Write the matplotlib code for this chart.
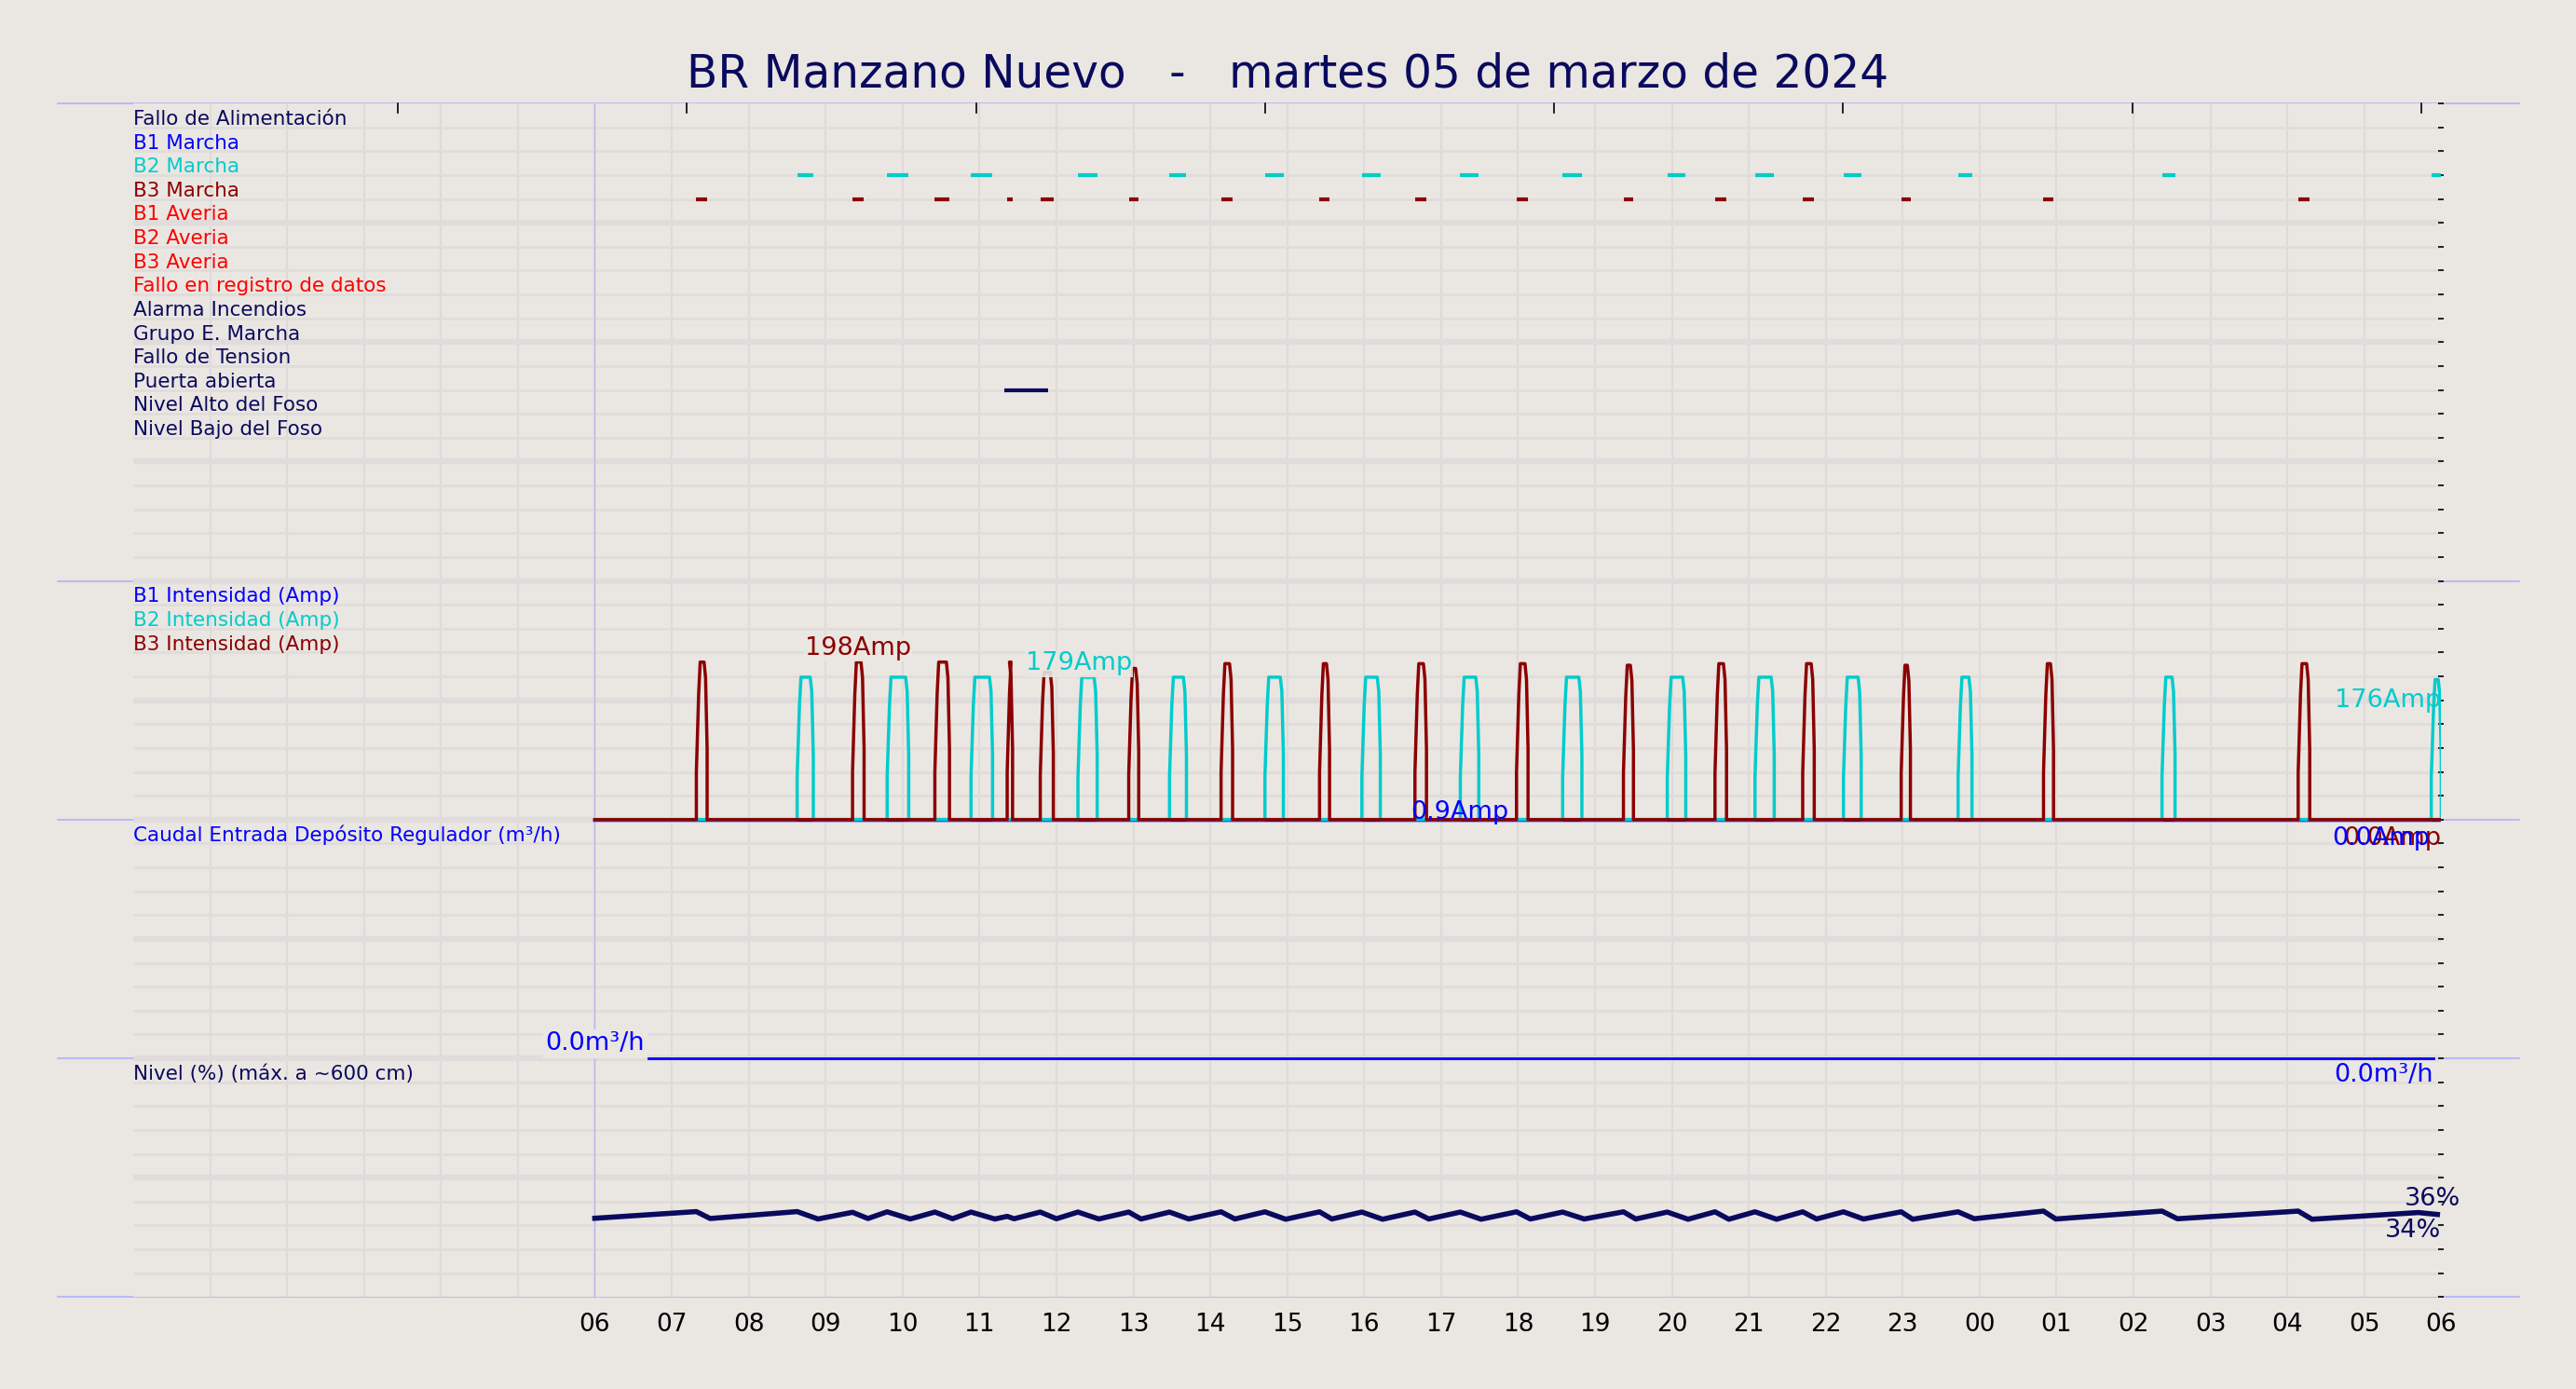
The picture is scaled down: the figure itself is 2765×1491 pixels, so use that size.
import matplotlib
matplotlib.use("Agg")
import matplotlib.pyplot as plt
from matplotlib.lines import Line2D

BG = "#EAE6E1"
NAVY = "#0A0A5E"
CYAN = "#00CCCC"
DRED = "#8B0000"
BLUE = "#0000FF"
RED = "#FF0000"

title = "BR Manzano Nuevo   -   martes 05 de marzo de 2024"
digital_labels = ["Fallo de Alimentación", "B1 Marcha", "B2 Marcha", "B3 Marcha",
                  "B1 Averia", "B2 Averia", "B3 Averia", "Fallo en registro de datos",
                  "Alarma Incendios", "Grupo E. Marcha", "Fallo de Tension",
                  "Puerta abierta", "Nivel Alto del Foso", "Nivel Bajo del Foso"]
digital_colors = [NAVY, BLUE, CYAN, DRED, RED, RED, RED, RED, NAVY, NAVY, NAVY, NAVY, NAVY, NAVY]
analog_labels = ["B1 Intensidad (Amp)", "B2 Intensidad (Amp)", "B3 Intensidad (Amp)"]
analog_colors = [BLUE, CYAN, DRED]
caudal_label = "Caudal Entrada Depósito Regulador (m³/h)"
nivel_label = "Nivel (%) (máx. a ~600 cm)"
hour_labels = ["06", "07", "08", "09", "10", "11", "12", "13", "14", "15", "16", "17", "18",
               "19", "20", "21", "22", "23", "00", "01", "02", "03", "04", "05", "06"]

# pump runs (start h, end h, peak Amp); hours counted from 00:00 of the day
b3_start = [7.32, 9.35, 10.42, 11.36, 11.79, 12.94, 14.14, 15.42, 16.66, 17.98, 19.37,
            20.56, 21.70, 22.98, 24.83, 28.14]
b3_end = [7.46, 9.50, 10.61, 11.43, 11.96, 13.07, 14.29, 15.55, 16.81, 18.13, 19.50,
          20.71, 21.85, 23.10, 24.96, 28.29]
b3_peak = [198, 198, 198, 198, 185, 190, 196, 196, 196, 196, 194, 196, 196, 194, 196, 196]
b2_start = [8.63, 9.80, 10.89, 12.28, 13.47, 14.71, 15.97, 17.25, 18.58, 19.94, 21.08,
            22.23, 23.72, 26.37, 29.87]
b2_end = [8.84, 10.08, 11.17, 12.53, 13.69, 14.95, 16.21, 17.49, 18.83, 20.18, 21.33,
          22.46, 23.90, 26.54, 30.00]
b2_peak = [179, 179, 179, 179, 179, 179, 179, 179, 179, 179, 179, 179, 179, 179, 176]
puerta_start, puerta_end = 11.32, 11.89

caudal_t = [6.7, 29.9]
caudal_v = [0.0, 0.0]

nivel_t = [6.0, 7.32, 7.5, 8.63, 8.9, 9.35, 9.55, 9.8, 10.1, 10.42, 10.65, 10.89, 11.2,
           11.36, 11.45, 11.79, 12.0, 12.28, 12.55, 12.94, 13.1, 13.47, 13.72, 14.14, 14.32,
           14.71, 14.98, 15.42, 15.58, 15.97, 16.24, 16.66, 16.84, 17.25, 17.52, 17.98, 18.16,
           18.58, 18.86, 19.37, 19.53, 19.94, 20.21, 20.56, 20.74, 21.08, 21.36, 21.70, 21.88,
           22.23, 22.49, 22.98, 23.13, 23.72, 23.93, 24.83, 24.99, 26.37, 26.57, 28.14, 28.32,
           29.7, 29.95]
nivel_v = [33.0, 35.8, 32.9, 35.8, 32.7, 35.5, 32.9, 35.7, 32.7, 35.6, 32.8, 35.6, 32.7,
           33.8, 32.8, 35.6, 32.8, 35.6, 32.7, 35.6, 32.7, 35.6, 32.7, 35.7, 32.7,
           35.7, 32.6, 35.7, 32.7, 35.6, 32.6, 35.6, 32.7, 35.6, 32.6, 35.7, 32.7,
           35.6, 32.7, 35.7, 32.7, 35.6, 32.6, 35.7, 32.6, 35.7, 32.6, 35.7, 32.7,
           35.7, 32.7, 35.7, 32.6, 35.7, 32.8, 36.0, 32.7, 36.0, 32.8, 36.0, 32.6,
           35.4, 34.6]

fig = plt.figure(figsize=(27.65, 14.91), dpi=100, facecolor=BG)
ax = fig.add_axes([0.0517, 0.0662, 0.8960, 0.8593])
ax.set_facecolor(BG)
ax.set_xlim(0, 30)
ax.set_ylim(0, 50)

# grid
for h in range(1, 30):
    ax.axvline(h, color="#DEDADA", lw=1.5, zorder=0)
for y in range(1, 50):
    ax.axhline(y, color="#E0DCDB", lw=4.5 if y % 5 == 0 else 2, zorder=0)
ax.axvline(6, color="#B8B8F0", lw=1, zorder=1)
for s in ax.spines.values():
    s.set_visible(False)

# panel separators
for yf in [0.0, 10.0, 20.0, 30.0, 50.0]:
    yfig = 0.0662 + 0.8593 * yf / 50
    fig.add_artist(Line2D([0.0223, 0.978], [yfig, yfig], color="#AEB0FF", lw=1.2, zorder=0))

ax.set_xticks(range(6, 31))
ax.set_xticklabels(hour_labels, fontsize=19)
ax.tick_params(axis="x", length=0, pad=12)
ax.set_yticks(range(0, 51))
ax.yaxis.tick_right()
ax.tick_params(axis="y", length=5, direction="inout", labelright=False, width=1.2)
top_ticks = [3.44 + 3.757 * k for k in range(8)]
for t in top_ticks:
    ax.plot([t, t], [49.6, 50], color="black", lw=1.2, clip_on=False)

fig.suptitle(title, fontsize=35, color=NAVY, y=0.963)

LF = 15.5
VF = 19.5
# digital labels and marks
for i, (lab, c) in enumerate(zip(digital_labels, digital_colors)):
    ax.text(0.0, 49 - i - 0.05, lab, color=c, fontsize=LF, va="bottom", ha="left")
for s, e in zip(b2_start, b2_end):
    ax.plot([s, e], [47, 47], color=CYAN, lw=3, solid_capstyle="butt")
for s, e in zip(b3_start, b3_end):
    ax.plot([s, e], [46, 46], color=DRED, lw=3, solid_capstyle="butt")
ax.plot([puerta_start, puerta_end], [38, 38], color=NAVY, lw=3, solid_capstyle="butt")

# intensity
for i, (lab, c) in enumerate(zip(analog_labels, analog_colors)):
    ax.text(0.0, 29 - i - 0.05, lab, color=c, fontsize=LF, va="bottom", ha="left")

def pulses(starts, ends, peaks):
    xs, ys = [6.0], [0.0]
    for s, e, p in zip(starts, ends, peaks):
        xs += [s, s, s + 0.03, s + 0.05, e - 0.04, e - 0.02, e, e]
        ys += [0, 0.3 * p, 0.8 * p, p, p, 0.9 * p, 0.45 * p, 0]
    if xs[-1] < 30:
        xs.append(30.0); ys.append(0.0)
    return xs, [20 + v / 30 for v in ys]

ax.plot([6, 30], [20, 20], color=BLUE, lw=2.5)
x2, y2 = pulses(b2_start, b2_end, b2_peak)
ax.plot(x2, y2, color=CYAN, lw=2.5)
x3, y3 = pulses(b3_start, b3_end, b3_peak)
ax.plot(x3, y3, color=DRED, lw=2.5)

bb = dict(facecolor=BG, edgecolor="none", pad=1, alpha=0.9)
ax.text(8.73, 20 + 198 / 30 + 0.3, "198Amp", color=DRED, fontsize=VF, bbox=bb)
ax.text(11.6, 20 + 179 / 30 + 0.3, "179Amp", color=CYAN, fontsize=VF, bbox=bb)
ax.text(30, 24.7, "176Amp", color=CYAN, fontsize=VF, ha="right")
ax.text(16.6, 20.05, "0.9Amp", color=BLUE, fontsize=VF)
ax.text(30, 19.7, "0.0Amp", color=DRED, fontsize=VF, ha="right", va="top")
ax.text(29.85, 19.7, "0.0Amp", color=BLUE, fontsize=VF, ha="right", va="top")

# caudal
ax.text(0.0, 19 - 0.05, caudal_label, color=BLUE, fontsize=LF, va="bottom", ha="left")
ax.plot(caudal_t, [10 + v for v in caudal_v], color=BLUE, lw=2)
ax.text(6.65, 10.1, "0.0m³/h", color=BLUE, fontsize=VF, ha="right", va="bottom",
        bbox=dict(facecolor=BG, edgecolor="none", pad=2), zorder=5)
ax.text(29.9, 9.8, "0.0m³/h", color=BLUE, fontsize=VF, ha="right", va="top")

# nivel
ax.text(0.0, 9 - 0.05, nivel_label, color=NAVY, fontsize=LF, va="bottom", ha="left")
ax.plot(nivel_t, [v / 10 for v in nivel_v], color=NAVY, lw=4)
ax.text(30.25, 3.6, "36%", color=NAVY, fontsize=VF, ha="right", va="bottom")
ax.text(30.0, 3.3, "34%", color=NAVY, fontsize=VF, ha="right", va="top")

fig.savefig("out.png", dpi=100, facecolor=BG)
